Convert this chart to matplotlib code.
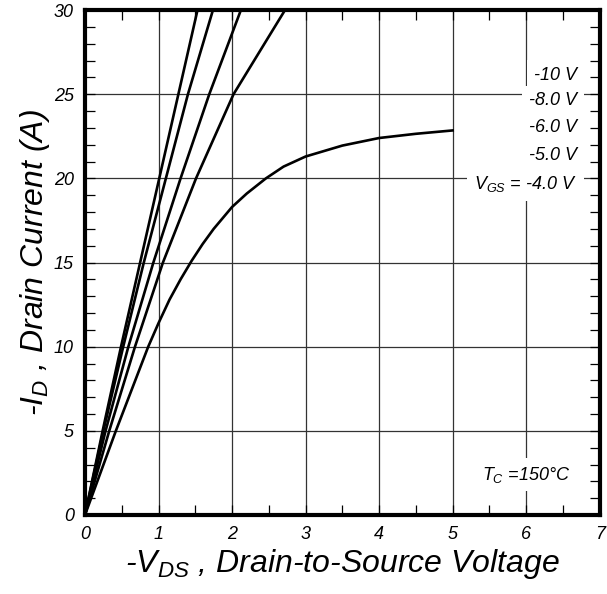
import matplotlib
matplotlib.use('Agg')
import matplotlib.pyplot as plt
from matplotlib.ticker import MultipleLocator

plt.rcParams['font.family'] = ['Liberation Sans', 'DejaVu Sans']
plt.rcParams['mathtext.fontset'] = 'custom'
plt.rcParams['mathtext.it'] = 'Liberation Sans:italic'
plt.rcParams['mathtext.rm'] = 'Liberation Sans:italic'

#Curves: -V_DS (V) and -I_D (A).
vds_10 = [0, 0.24, 0.49, 0.75, 1.01, 1.27, 1.53]
id_10  = [0, 5, 10, 15, 20, 25, 30]

vds_8 = [0, 0.25, 0.52, 0.80, 1.10, 1.40, 1.74]
id_8  = [0, 5, 10, 15, 20, 25, 30]

vds_6 = [0, 0.28, 0.59, 0.93, 1.30, 1.69, 2.12]
id_6  = [0, 5, 10, 15, 20, 25, 30]

vds_5 = [0, 0.33, 0.68, 1.06, 1.51, 2.02, 2.72]
id_5  = [0, 5, 10, 15, 20, 25, 30]

vds_4 = [0, 0.42, 0.86, 1.0, 1.15, 1.3, 1.45, 1.6, 1.75, 2.0, 2.2, 2.46,
	2.7, 3.0, 3.5, 4.0, 4.5, 5.0]
id_4  = [0, 5, 10, 11.4, 12.8, 14.0, 15.1, 16.1, 17.0, 18.3, 19.1, 20.0,
	20.7, 21.3, 21.95, 22.4, 22.65, 22.85]

curves = [(vds_10, id_10), (vds_8, id_8), (vds_6, id_6),
          (vds_5, id_5), (vds_4, id_4)]

vgs_labels = ['-10 V', '-8.0 V', '-6.0 V', '-5.0 V', '$V_{GS}$ = -4.0 V']
vgs_label_y = [26.1, 24.6, 23.05, 21.35, 19.65]

fig = plt.figure(figsize=(6.07, 5.94), dpi=100)
ax = fig.add_axes([0.140, 0.133, 0.848, 0.850])

for (v, i) in curves:
	ax.plot(v, i, color='black', lw=1.9, solid_joinstyle='round', zorder=3)

ax.set_xlim(0, 7)
ax.set_ylim(0, 30)

#Grid at the major steps, small inward ticks everywhere.
ax.xaxis.set_major_locator(MultipleLocator(1))
ax.yaxis.set_major_locator(MultipleLocator(5))
ax.xaxis.set_minor_locator(MultipleLocator(0.5))
ax.yaxis.set_minor_locator(MultipleLocator(1))
ax.grid(True, which='major', color='#333333', lw=0.9, zorder=1)
ax.tick_params(which='both', direction='in', top=True, right=True,
	length=7, width=0.9, color='black')
ax.tick_params(which='major', labelsize=13, pad=8)
for lab in ax.get_xticklabels() + ax.get_yticklabels():
	lab.set_fontstyle('italic')
for s in ax.spines.values():
	s.set_linewidth(3.0)
	s.set_zorder(5)

ax.set_xlabel('-$V_{DS}$ , Drain-to-Source Voltage', fontsize=23,
	fontstyle='italic', labelpad=3)
ax.set_ylabel('-$I_{D}$ , Drain Current (A)', fontsize=23,
	fontstyle='italic', labelpad=1)

box = dict(facecolor='white', edgecolor='none', pad=5)
for (t, y) in zip(vgs_labels, vgs_label_y):
	ax.text(6.69, y, t, ha='right', va='center', fontsize=13,
		fontstyle='italic', bbox=box, zorder=4)

ax.text(6.6, 2.4, '$T_{C}$ =150°C', ha='right', va='center', fontsize=13,
	fontstyle='italic', bbox=box, zorder=4)

fig.savefig('out.png', dpi=100)
